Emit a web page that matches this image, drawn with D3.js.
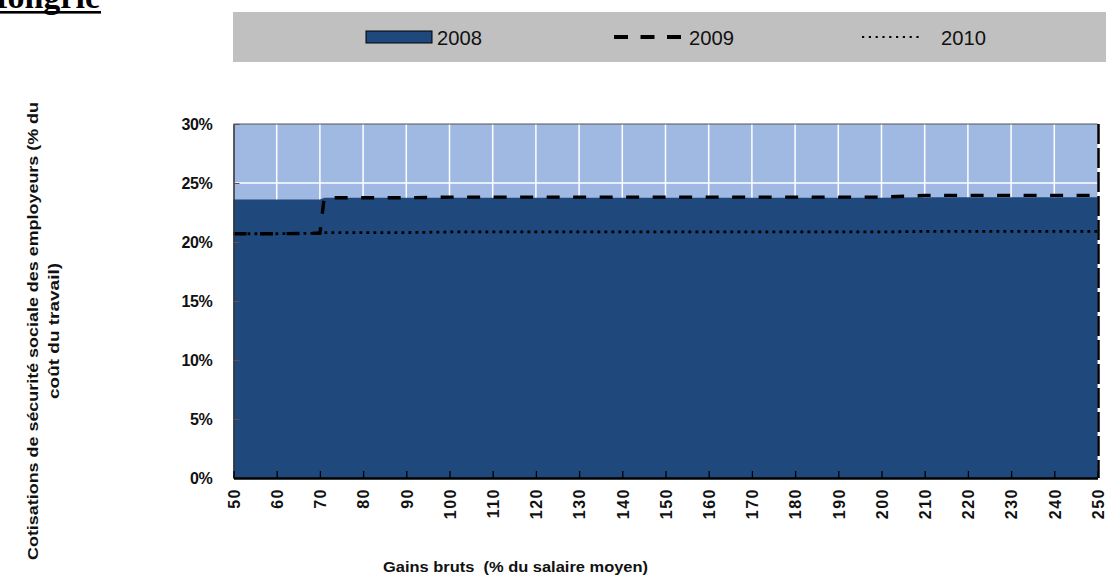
<!DOCTYPE html>
<html><head><meta charset="utf-8">
<script src="https://cdn.jsdelivr.net/npm/d3@7"></script>
<style>
html,body{margin:0;padding:0;background:#fff;}
svg{display:block;}
</style></head>
<body>
<svg id="chart" width="1108" height="576"></svg>
<script>
// ---- data ----
const title = "Hongrie";
const seriesNames = ["2008", "2009", "2010"];
const gains = [50,60,70,71,80,90,100,110,120,130,140,150,160,170,180,190,200,210,220,230,240,250];
const s2008 = [23.6,23.6,23.6,23.75,23.75,23.75,23.75,23.75,23.75,23.75,23.75,23.75,23.75,23.75,23.75,23.75,23.75,23.8,23.8,23.8,23.8,23.8];
const s2009 = [20.7,20.7,20.75,23.75,23.75,23.75,23.8,23.8,23.8,23.8,23.8,23.8,23.8,23.8,23.8,23.8,23.8,23.95,23.95,23.95,23.95,23.95];
const s2010 = [20.7,20.7,20.75,20.8,20.8,20.8,20.85,20.85,20.85,20.85,20.85,20.85,20.85,20.85,20.85,20.85,20.85,20.9,20.9,20.9,20.9,20.9];
const xTicks = [50,60,70,80,90,100,110,120,130,140,150,160,170,180,190,200,210,220,230,240,250];
const yTicks = [0,5,10,15,20,25,30];
const yTitle = ["Cotisations de sécurité sociale des employeurs (% du", "coût du travail)"];
const xTitle = "Gains bruts  (% du salaire moyen)";

// ---- layout ----
const svg = d3.select("#chart");
const L = 233.5, R = 1097.5, T = 124, B = 478;
const x = d3.scaleLinear().domain([50,250]).range([L,R]);
const y = d3.scaleLinear().domain([0,30]).range([B,T]);
const sansB = "'Liberation Sans', Arial, sans-serif";

// title (cut off at the top edge, as in the reference)
svg.append("text").attr("x",-19).attr("y",8)
  .attr("font-family","'Liberation Serif','Times New Roman',serif")
  .attr("font-weight","bold").attr("font-size",34).attr("fill","#000").text(title);
svg.append("rect").attr("x",0).attr("y",11).attr("width",101).attr("height",2.6).attr("fill","#000");

// legend
svg.append("rect").attr("x",233).attr("y",12).attr("width",873).attr("height",50).attr("fill","#c0c0c0");
svg.append("rect").attr("x",366).attr("y",31).attr("width",66).attr("height",12)
  .attr("fill","#1f497d").attr("stroke","#000").attr("stroke-width",1);
svg.append("line").attr("x1",614).attr("x2",686).attr("y1",37).attr("y2",37)
  .attr("stroke","#000").attr("stroke-width",4).attr("stroke-dasharray","14,12.5");
svg.append("line").attr("x1",862).attr("x2",923).attr("y1",37).attr("y2",37)
  .attr("stroke","#000").attr("stroke-width",2.2).attr("stroke-dasharray","2.2,4.6");
const legText = [[437,seriesNames[0]],[689,seriesNames[1]],[941,seriesNames[2]]];
legText.forEach(([lx,t])=>{
  svg.append("text").attr("x",lx).attr("y",45).attr("font-family","'Liberation Sans Narrow','Liberation Sans',Arial,sans-serif")
    .attr("font-size",21).attr("fill","#111").attr("textLength",45).attr("lengthAdjust","spacingAndGlyphs").text(t);
});

// plot background
svg.append("rect").attr("x",L).attr("y",T).attr("width",R-L).attr("height",B-T).attr("fill","#a0b9e3");

// gridlines
svg.append("g").selectAll("line").data(xTicks.filter(d=>d>50&&d<250)).join("line")
  .attr("x1",d=>x(d)).attr("x2",d=>x(d)).attr("y1",T).attr("y2",B)
  .attr("stroke","#fff").attr("stroke-width",1.5);
svg.append("g").selectAll("line").data(yTicks.filter(d=>d>0&&d<30)).join("line")
  .attr("x1",L).attr("x2",R).attr("y1",d=>y(d)).attr("y2",d=>y(d))
  .attr("stroke","#fff").attr("stroke-width",1.5);

// area 2008
const area = d3.area().x((d,i)=>x(gains[i])).y0(y(0)).y1(d=>y(d));
svg.append("path").datum(s2008).attr("d",area).attr("fill","#1f497d");

// lines
const line = d3.line().x((d,i)=>x(gains[i])).y(d=>y(d));
svg.append("path").datum(s2010).attr("d",line).attr("fill","none")
  .attr("stroke","#000").attr("stroke-width",2.8).attr("stroke-dasharray","2.8,4.2");
svg.append("path").datum(s2009).attr("d",line).attr("fill","none")
  .attr("stroke","#000").attr("stroke-width",3.4).attr("stroke-dasharray","13,13.5");

// borders
svg.append("line").attr("x1",L).attr("x2",R).attr("y1",T).attr("y2",T).attr("stroke","#555").attr("stroke-width",1.2);
svg.append("line").attr("x1",R+1).attr("x2",R+1).attr("y1",T).attr("y2",B)
  .attr("stroke","#000").attr("stroke-width",2.5).attr("stroke-dasharray","20,4");

// y axis
const yAxis = d3.axisLeft(y).tickValues(yTicks).tickSizeInner(-6).tickSizeOuter(0).tickPadding(21)
  .tickFormat(d=>d+"%");
const gy = svg.append("g").attr("transform",`translate(${L},0)`).call(yAxis);
gy.select(".domain").attr("stroke","#333").attr("stroke-width",1.5);
gy.selectAll(".tick line").attr("stroke","#555");
gy.selectAll(".tick text").attr("font-family",sansB).attr("font-weight","bold").attr("font-size",16)
  .attr("fill","#111").attr("letter-spacing","-0.3");

// x axis
const xAxis = d3.axisBottom(x).tickValues(xTicks).tickSizeInner(-7).tickSizeOuter(0).tickFormat(d=>d);
const gx = svg.append("g").attr("transform",`translate(0,${B})`).call(xAxis);
gx.select(".domain").attr("stroke","#000").attr("stroke-width",2.5);
gx.selectAll(".tick line").attr("stroke","#000").attr("stroke-width",1.3);
gx.selectAll(".tick text").attr("font-family",sansB).attr("font-weight","bold").attr("font-size",16)
  .attr("fill","#111").attr("transform","rotate(-90)").attr("text-anchor","end")
  .attr("letter-spacing","1.5")
  .attr("x",-10).attr("y",0).attr("dy","0.36em");

// axis titles
const yt = svg.append("text").attr("transform","translate(0,331) rotate(-90)")
  .attr("font-family",sansB).attr("font-weight","bold").attr("font-size",15).attr("fill","#111")
  .attr("text-anchor","middle");
yt.append("tspan").attr("x",0).attr("y",38).attr("textLength",458).attr("lengthAdjust","spacingAndGlyphs").text(yTitle[0]);
yt.append("tspan").attr("x",0).attr("y",59).attr("textLength",136).attr("lengthAdjust","spacingAndGlyphs").text(yTitle[1]);

svg.append("text").attr("x",383).attr("y",572).attr("font-family",sansB).attr("font-weight","bold")
  .attr("font-size",15.5).attr("fill","#111").attr("textLength",265).attr("lengthAdjust","spacingAndGlyphs")
  .attr("xml:space","preserve").style("white-space","pre").text(xTitle);
</script>
</body></html>
